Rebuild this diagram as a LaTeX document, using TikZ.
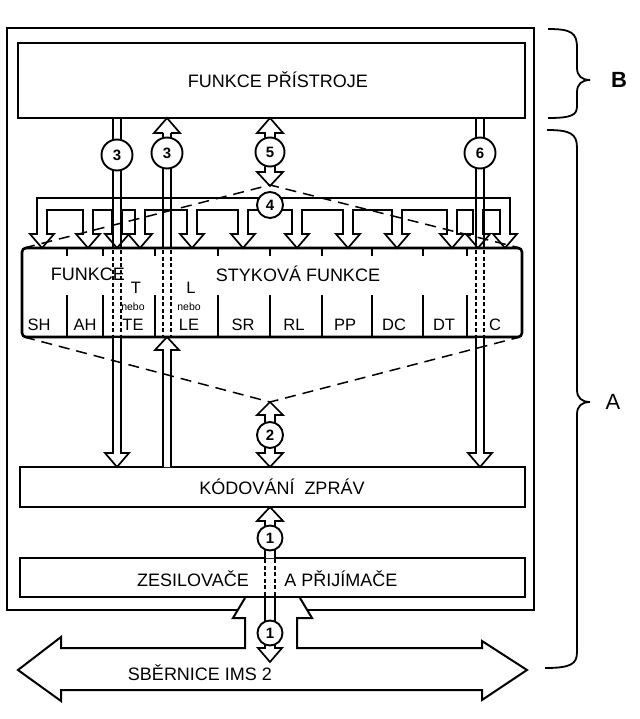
\documentclass[tikz,border=0pt]{standalone}
\usepackage{fontspec}
\setmainfont{Liberation Sans}
\begin{document}
\begin{tikzpicture}[x=1pt,y=-1pt,
  box/.style={draw, line width=2.3pt},
  lab/.style={font=\fontsize{18}{20}\selectfont, inner sep=0pt},
  cell/.style={font=\fontsize{16.5}{18}\selectfont, inner sep=0pt},
  tiny/.style={font=\fontsize{10.5}{11}\selectfont, inner sep=0pt},
  arr/.style={draw, line width=1.7pt, fill=white, line join=miter},
  ln/.style={line width=1.7pt},
  dl/.style={line width=1.6pt, dash pattern=on 4pt off 2.5pt},
  dsh/.style={line width=1.5pt, dash pattern=on 11pt off 7pt},
  num/.style={circle, draw, line width=1.9pt, fill=white, inner sep=0pt, font=\fontsize{15}{15}\selectfont\bfseries},
  brace/.style={line width=1.8pt},
]
\useasboundingbox (0,0) rectangle (639,719);

% outer frame and boxes
\draw[box, line width=2.6pt] (7,28) rectangle (534,610);
\draw[box] (18,43) rectangle (525,118);
\node[lab] (fp) at (278,80) {FUNKCE PŘÍSTROJE};
\draw[box, line width=2.6pt, rounded corners=4pt] (22,248) rectangle (522,337);
\draw[box] (20,467) rectangle (525,507);
\node[lab] (kz) at (282,487) {KÓDOVÁNÍ\ \ ZPRÁV};
\draw[box] (20,558) rectangle (525,597);
\node[lab] (zes) at (193,579) {ZESILOVAČE};
\node[lab] (prij) at (341,579) {A PŘIJÍMAČE};

% partitions of the interface box
\foreach \x in {67,103,155,218,270,322,372,423,467} {
  \draw[line width=2.6pt] (\x,248) -- (\x,256);
  \draw[line width=2.6pt] (\x,295) -- (\x,337);
}
\node[lab] (fu) at (88,274) {FUNKCE};
\node[lab] (sf) at (298,274) {STYKOVÁ FUNKCE};
\foreach \t/\x in {SH/39,AH/85,TE/133,LE/189,SR/243,RL/294,PP/345,DC/394,DT/444,C/495}
  \node[cell] (c\t) at (\x,325) {\t};
\node[cell] (lt) at (136,288) {T};
\node[cell] (ll) at (191,288) {L};
\node[tiny] (n1) at (133,307) {nebo};
\node[tiny] (n2) at (189,307) {nebo};

% comb (bus of channel 4)
\filldraw[arr] (37,198) -- (37,234) -- (30,234) -- (42,248) -- (54,234) -- (47,234) -- (47,210)
  \foreach \c in {88,117,140,192,243,297,348,397,452,478} {
    -- (\c-5,210) -- (\c-5,234) -- (\c-12,234) -- (\c,248) -- (\c+12,234) -- (\c+5,234) -- (\c+5,210) }
  -- (500,210) -- (500,234) -- (493,234) -- (505,248) -- (517,234) -- (510,234) -- (510,198) -- cycle;

% channel 3 (left, down)
\draw[ln] (113,118) -- (113,248) (121,118) -- (121,248);
\draw[dl] (113,250) -- (113,337) (121,250) -- (121,337);
\draw[arr] (113,338) -- (113,453) -- (105,453) -- (117,467) -- (129,453) -- (121,453) -- (121,338);

% channel 3 (right, up)
\draw[arr] (163,133) -- (154,133) -- (167,118) -- (180,133) -- (171,133);
\draw[ln] (163,133) -- (163,248) (171,133) -- (171,248);
\draw[dl] (163,250) -- (163,337) (171,250) -- (171,337);
\draw[arr] (163,467) -- (163,350) -- (155,350) -- (167,337) -- (179,350) -- (171,350) -- (171,467);

% channel 5
\draw[arr] (265,133) -- (257,133) -- (270,118) -- (283,133) -- (275,133) -- (275,172)
  -- (283,172) -- (270,186) -- (257,172) -- (265,172) -- cycle;

% channel 6
\draw[ln] (476,118) -- (476,248) (484,118) -- (484,248);
\draw[dl] (476,250) -- (476,337) (484,250) -- (484,337);
\draw[arr] (476,338) -- (476,453) -- (468,453) -- (480,467) -- (492,453) -- (484,453) -- (484,338);

% channel 2
\draw[arr] (265,415) -- (257,415) -- (270,402) -- (283,415) -- (275,415) -- (275,453)
  -- (283,453) -- (270,467) -- (257,453) -- (265,453) -- cycle;

% bus SBĚRNICE
\filldraw[arr, line width=2pt] (245,598) -- (233,618) -- (245,618) -- (245,648) -- (61,648) -- (61,637)
  -- (18,670) -- (61,701) -- (61,690) -- (482,690) -- (482,700) -- (527,670) -- (482,641)
  -- (482,648) -- (297,648) -- (297,618) -- (312,618) -- (300,598);
\node[lab] (bus) at (200,673) {SBĚRNICE IMS 2};

% channel 1
\draw[arr] (265,558) -- (265,521) -- (257,521) -- (270,507) -- (283,521) -- (275,521) -- (275,558);
\draw[dl] (265,559) -- (265,597) (275,559) -- (275,597);
\draw[arr] (265,598) -- (265,648) -- (258,648) -- (270,662) -- (282,648) -- (275,648) -- (275,598);

% dashed fan lines
\draw[dsh] (24,248) -- (270,185) -- (520,248);
\draw[dsh] (24,337) -- (270,402) -- (520,337);

% numbered circles
\node[num, minimum size=31pt] (k3a) at (117,155) {3};
\node[num, minimum size=31pt] (k3b) at (167,153) {3};
\node[num, minimum size=29pt] (k5) at (270,152) {5};
\node[num, minimum size=31pt] (k6) at (480,153) {6};
\node[num, minimum size=26pt] (k4) at (270,205) {4};
\node[num, minimum size=26pt] (k2) at (270,435) {2};
\node[num, minimum size=25pt] (k1a) at (270,538) {1};
\node[num, minimum size=25pt] (k1b) at (270,633) {1};

% braces
\draw[brace] (548,29) .. controls (572,29) and (577,33) .. (577,48) -- (577,68)
  .. controls (577,76) and (582,80) .. (590,80) .. controls (582,80) and (577,84) .. (577,92)
  -- (577,106) .. controls (577,115) and (572,118) .. (548,118);
\node[font=\fontsize{22}{24}\selectfont\bfseries, inner sep=0pt] (lB) at (619,80) {B};
\draw[brace] (547,130) .. controls (571,130) and (577,134) .. (577,148) -- (577,390)
  .. controls (577,398) and (582,402) .. (590,402) .. controls (582,402) and (577,406) .. (577,414)
  -- (577,652) .. controls (577,664) and (571,668) .. (545,668);
\node[font=\fontsize{22}{24}\selectfont, inner sep=0pt] (lA) at (613,402) {A};
\end{tikzpicture}
\end{document}
